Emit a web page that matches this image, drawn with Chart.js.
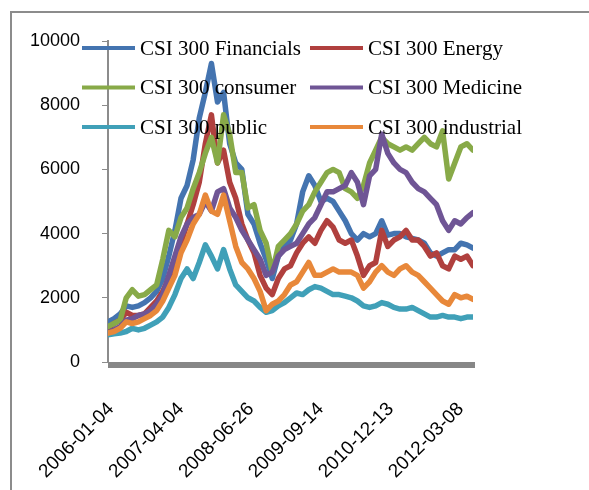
<!DOCTYPE html>
<html>
<head>
<meta charset="utf-8">
<script src="https://cdn.jsdelivr.net/npm/chart.js@4"></script>
<style>
  body { margin: 0; background: #fff; }
  canvas { display: block; }
</style>
</head>
<body>
<canvas id="chart" width="589" height="490"></canvas>
<script>
// sampled roughly every 26 trading days, 2006-01-04 .. mid 2012
const tickLabels = ["2006-01-04", "2007-04-04", "2008-06-26", "2009-09-14", "2010-12-13", "2012-03-08"];
const tickIndex = [0, 11.5, 23, 34.5, 46, 57.5];

const financials = [1250, 1350, 1500, 1750, 1700, 1750, 1850, 2000, 2200, 2600, 3300, 4100, 5100, 5500, 6300, 7600,
  8400, 9300, 8100, 8400, 6800, 6200, 6000, 4600, 4300, 3700, 3200, 2600, 3300, 3600, 3800, 4300, 5300, 5800, 5500,
  5000, 5100, 5000, 4700, 4400, 4000, 3800, 4000, 3900, 4000, 4400, 3950, 4000, 4000, 3900, 3850, 3800, 3700, 3400,
  3300, 3400, 3500, 3500, 3700, 3650, 3550];
const energy = [1050, 1200, 1300, 1550, 1450, 1450, 1500, 1700, 1900, 2200, 2600, 2800, 3700, 4300, 4900, 5600,
  6800, 7700, 6200, 6600, 5600, 5100, 4300, 3800, 3400, 2700, 2300, 2100, 2600, 2900, 3000, 3400, 3700, 3900, 3700,
  4100, 4400, 4200, 3800, 3700, 3800, 3300, 2700, 3000, 3100, 4100, 3600, 3800, 3900, 4100, 3800, 3800, 3600, 3300,
  3400, 3000, 2900, 3300, 3200, 3300, 3000];
const consumer = [1100, 1200, 1300, 2000, 2250, 2050, 2100, 2250, 2400, 3200, 4100, 3900, 4500, 4800, 5400, 5900,
  6500, 7000, 6200, 7700, 7100, 5900, 5900, 4800, 4900, 4100, 3700, 2800, 3600, 3800, 4000, 4300, 4700, 4900, 5300,
  5600, 5900, 6000, 5900, 5400, 5300, 5100, 5500, 6200, 6600, 7000, 6800, 6700, 6600, 6700, 6600, 6800, 7000, 6800,
  6700, 7200, 5700, 6200, 6700, 6800, 6600];
const medicine = [900, 1000, 1100, 1300, 1350, 1450, 1500, 1600, 1800, 2100, 2700, 3300, 3900, 4300, 4500, 4600,
  5000, 4700, 5300, 5400, 4800, 4500, 4100, 3800, 3500, 3200, 2700, 2800, 3300, 3500, 3600, 3700, 4000, 4300, 4500,
  4900, 5300, 5300, 5400, 5500, 5900, 5600, 4900, 5800, 6000, 7100, 6500, 6200, 6000, 5900, 5600, 5400, 5300, 5100,
  4900, 4400, 4100, 4400, 4300, 4500, 4650];
const publicUtil = [850, 880, 900, 950, 1050, 1000, 1050, 1150, 1250, 1400, 1700, 2100, 2600, 2900, 2600, 3100,
  3650, 3300, 2900, 3500, 2900, 2400, 2200, 2000, 1900, 1700, 1550, 1600, 1750, 1850, 2000, 2150, 2100, 2250, 2350,
  2300, 2200, 2100, 2100, 2050, 2000, 1900, 1750, 1700, 1750, 1850, 1800, 1700, 1650, 1650, 1700, 1600, 1500, 1400,
  1400, 1450, 1400, 1400, 1350, 1400, 1400];
const industrial = [900, 950, 1050, 1250, 1200, 1250, 1350, 1450, 1600, 1900, 2300, 2700, 3400, 3800, 4300, 4600,
  5200, 4700, 4600, 5200, 4400, 3600, 3100, 2900, 2600, 2200, 1600, 1800, 1900, 2100, 2400, 2500, 2800, 3100, 2700,
  2700, 2800, 2900, 2800, 2800, 2800, 2700, 2300, 2500, 2800, 3000, 2800, 2700, 2900, 3000, 2800, 2700, 2500, 2300,
  2100, 1900, 1800, 2100, 2000, 2050, 1950];

const seriesNames = ["CSI 300 Financials", "CSI 300 Energy", "CSI 300 consumer", "CSI 300 Medicine", "CSI 300 public", "CSI 300 industrial"];
const seriesValues = [financials, energy, consumer, medicine, publicUtil, industrial];
const seriesColors = ["#4474b0", "#b0403e", "#88aa48", "#6f5595", "#40a0b8", "#e8883a"];

const toPoints = vals => vals.map((v, i) => ({x: i, y: v}));

// legend drawn inside the plot, 2 columns x 3 rows like the excel one
const insideLegend = {
  id: 'insideLegend',
  afterDatasetsDraw(chart) {
    const ctx = chart.ctx;
    ctx.save();
    ctx.font = '21px "Liberation Serif"';
    ctx.textBaseline = 'middle';
    ctx.fillStyle = '#000';
    chart.data.datasets.forEach((ds, k) => {
      const row = Math.floor(k / 2), col = k % 2;
      const x0 = col === 0 ? 82 : 310;
      const y = 48 + row * 39.5;
      ctx.strokeStyle = ds.borderColor;
      ctx.lineWidth = 4;
      ctx.beginPath();
      ctx.moveTo(x0, y);
      ctx.lineTo(x0 + 53, y);
      ctx.stroke();
      ctx.fillText(ds.label, x0 + 58, y + 1);
    });
    ctx.restore();
  }
};

// outer frame + the heavy grey category axis excel draws
const frame = {
  id: 'frame',
  beforeDraw(chart) {
    const ctx = chart.ctx;
    ctx.save();
    ctx.strokeStyle = '#8c8c8c';
    ctx.lineWidth = 2;
    ctx.beginPath();
    ctx.moveTo(11, 500);
    ctx.lineTo(11, 12);
    ctx.lineTo(600, 12);
    ctx.stroke();
    ctx.restore();
  },
  afterDraw(chart) {
    const a = chart.chartArea;
    const ctx = chart.ctx;
    ctx.save();
    ctx.fillStyle = '#878787';
    ctx.fillRect(a.left, a.bottom, a.right - a.left + 2, 6);
    ctx.restore();
  }
};

Chart.defaults.color = '#000';

const chart = new Chart(document.getElementById('chart'), {
  type: 'line',
  data: {
    datasets: seriesNames.map((name, k) => ({
      label: name,
      data: toPoints(seriesValues[k]),
      borderColor: seriesColors[k],
      backgroundColor: seriesColors[k],
      borderWidth: 5.5,
      pointRadius: 0,
      tension: 0,
      borderJoinStyle: 'round',
      borderCapStyle: 'round',
      order: 6 - k
    }))
  },
  options: {
    responsive: false,
    animation: false,
    devicePixelRatio: 1,
    layout: {padding: {left: 0, top: 41, right: 116, bottom: 0}},
    plugins: {
      legend: {display: false},
      tooltip: {enabled: false}
    },
    scales: {
      x: {
        type: 'linear',
        min: 0,
        max: 60,
        afterBuildTicks(scale) {
          scale.ticks = tickIndex.map(v => ({value: v}));
        },
        afterFit(scale) { scale.height = 128; },
        grid: {display: false, drawTicks: false},
        border: {display: false},
        ticks: {
          autoSkip: false,
          minRotation: 45,
          maxRotation: 45,
          padding: 36,
          labelOffset: 3,
          font: {family: '"Liberation Sans"', size: 19},
          callback(value) {
            const i = tickIndex.indexOf(value);
            return i >= 0 ? tickLabels[i] : '';
          }
        }
      },
      y: {
        min: 0,
        max: 10000,
        afterFit(scale) { scale.width = 108; },
        grid: {drawOnChartArea: false, drawTicks: true, tickLength: 6, color: '#8c8c8c'},
        border: {color: '#8c8c8c', width: 2},
        ticks: {
          stepSize: 2000,
          padding: 22,
          font: {family: '"Liberation Sans"', size: 18},
          callback: value => String(value)
        }
      }
    }
  },
  plugins: [frame, insideLegend]
});
</script>
</body>
</html>
